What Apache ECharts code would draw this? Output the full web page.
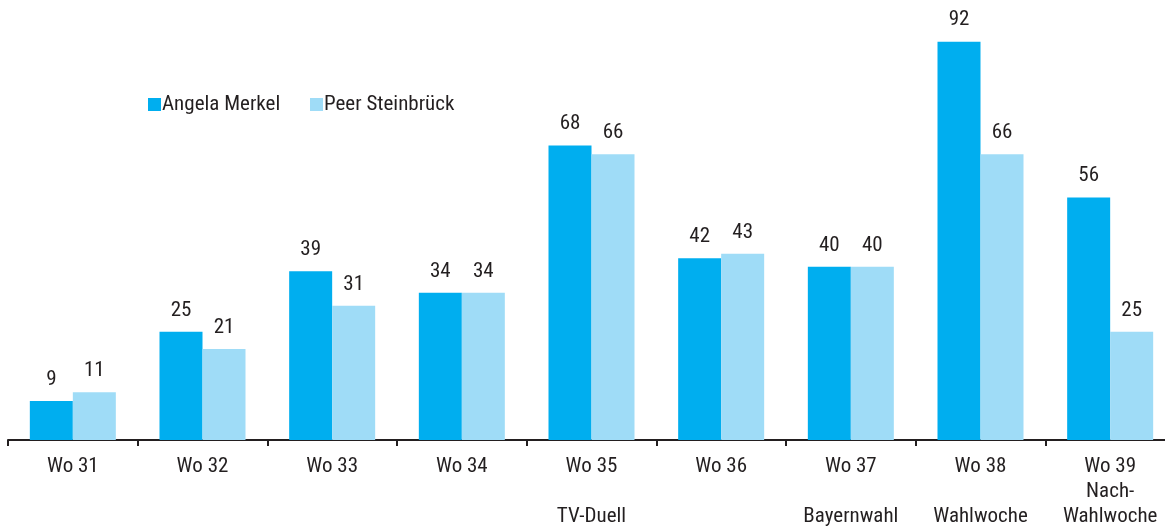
<!DOCTYPE html>
<html>
<head>
<meta charset="utf-8">
<script src="https://cdn.jsdelivr.net/npm/echarts@6/dist/echarts.min.js"></script>
<style>
  html, body { margin: 0; padding: 0; background: #fff; }
  #chart { width: 1165px; height: 527px; }
</style>
</head>
<body>
<div id="chart"></div>
<script>
// Weekly counts per candidate, election weeks 31–39
const categories = [
  'Wo 31', 'Wo 32', 'Wo 33', 'Wo 34', 'Wo 35\n\nTV-Duell',
  'Wo 36', 'Wo 37\n\nBayernwahl', 'Wo 38\n\nWahlwoche', 'Wo 39\nNach-\nWahlwoche'
];
const merkel = [9, 25, 39, 34, 68, 42, 40, 92, 56];
const steinbrueck = [11, 21, 31, 34, 66, 43, 40, 66, 25];
const seriesNames = ['Angela Merkel', 'Peer Steinbrück'];

const FONT = '"Liberation Sans Narrow", "Arial Narrow", "Roboto Condensed", "Liberation Sans", sans-serif';
const TEXT = '#231f20';

const chart = echarts.init(document.getElementById('chart'), null, { renderer: 'canvas' });

const labelStyle = {
  show: true,
  position: 'top',
  distance: 11,
  color: TEXT,
  fontFamily: FONT,
  fontSize: 21
};

const legendBase = {
  top: 89,
  itemWidth: 13,
  itemHeight: 13,
  icon: 'rect',
  textStyle: { color: TEXT, fontFamily: FONT, fontSize: 21, padding: [0, 0, 0, -4] }
};

chart.setOption({
  animation: false,
  backgroundColor: '#ffffff',
  textStyle: { fontFamily: FONT },
  legend: [
    Object.assign({ left: 143, data: [seriesNames[0]] }, legendBase),
    Object.assign({ left: 305, data: [seriesNames[1]] }, legendBase)
  ],
  // the last category runs past the right edge of the canvas
  grid: { left: 8, top: 7, right: -10, bottom: 87, containLabel: false, outerBoundsMode: 'none' },
  xAxis: {
    type: 'category',
    data: categories,
    axisLine: { lineStyle: { color: '#231f20', width: 2 } },
    axisTick: { show: true, length: 6, lineStyle: { color: '#231f20', width: 2 } },
    axisLabel: {
      color: TEXT,
      fontFamily: FONT,
      fontSize: 21,
      lineHeight: 25,
      margin: 14,
      interval: 0
    }
  },
  yAxis: {
    type: 'value',
    min: 0,
    max: 100,
    show: false,
    splitLine: { show: false }
  },
  series: [
    {
      name: seriesNames[0],
      type: 'bar',
      data: merkel,
      barWidth: 43,
      barGap: '0%',
      itemStyle: { color: '#00aeef' },
      label: labelStyle
    },
    {
      name: seriesNames[1],
      type: 'bar',
      data: steinbrueck,
      barWidth: 43,
      barGap: '0%',
      itemStyle: { color: '#9fdcf7' },
      label: labelStyle
    }
  ]
});
</script>
</body>
</html>
